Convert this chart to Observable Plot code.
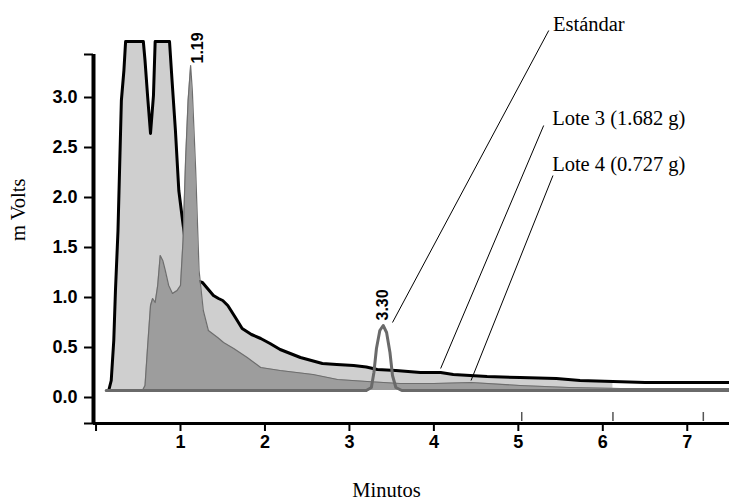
<!DOCTYPE html>
<html><head><meta charset="utf-8">
<script src="https://cdn.jsdelivr.net/npm/d3@7"></script>
<script src="https://cdn.jsdelivr.net/npm/@observablehq/plot@0.6"></script>
<style>body{margin:0;background:#fff}</style>
</head><body><div id="chart"></div>
<script>
// Lote 3 (1.682 g) — light gray fill with black outline
const lote3X = [0.15,0.18,0.21,0.23,0.26,0.30,0.33,0.35,0.56,0.58,0.61,0.645,0.68,0.70,0.87,0.90,0.94,0.98,1.02,1.07,1.12,1.18,1.26,1.32,1.39,1.45,1.50,1.56,1.65,1.73,1.84,1.95,2.06,2.18,2.30,2.42,2.55,2.68,2.85,3.05,3.20,3.33,3.55,3.84,4.08,4.23,4.63,5.02,5.45,5.73,6.12,6.50,7.00,7.50];
const lote3Y = [0,0.1,0.5,1.0,1.6,2.9,3.2,3.49,3.49,3.3,2.95,2.57,2.95,3.49,3.49,3.1,2.6,2.0,1.73,1.4,1.15,1.1,1.08,1.02,0.95,0.92,0.90,0.85,0.73,0.62,0.56,0.52,0.47,0.41,0.37,0.33,0.30,0.27,0.26,0.25,0.235,0.21,0.2,0.18,0.18,0.16,0.14,0.13,0.12,0.1,0.09,0.08,0.08,0.08];
// Lote 4 (0.727 g) — darker gray fill
const lote4X = [0.55,0.58,0.61,0.645,0.67,0.70,0.73,0.76,0.79,0.82,0.86,0.905,0.96,1.00,1.03,1.06,1.09,1.12,1.14,1.16,1.18,1.20,1.22,1.27,1.33,1.44,1.51,1.63,1.79,1.95,2.18,2.57,2.86,3.21,3.60,4.00,4.44,5.02,5.60,6.21,7.50];
const lote4Y = [0,0.05,0.43,0.85,0.92,0.88,1.05,1.35,1.3,1.2,1.05,0.97,1.0,1.05,1.5,2.3,2.9,3.25,3.0,2.6,2.2,1.7,1.2,0.8,0.6,0.53,0.48,0.42,0.33,0.23,0.2,0.16,0.11,0.09,0.07,0.07,0.08,0.05,0.03,0.02,0.02];
// Estándar — gray trace with peak at 3.30
const estX = [0.12,3.20,3.26,3.29,3.32,3.36,3.40,3.44,3.48,3.51,3.55,3.62,7.50];
const estY = [0,0,0.03,0.18,0.42,0.6,0.65,0.58,0.38,0.15,0.03,0,0];

const xTicks = [0,1,2,3,4,5,6,7];
const yTicks = [0,0.5,1.0,1.5,2.0,2.5,3.0];
const xDomain = [-0.03, 7.5];
const yDomain = [-0.33, 3.6];
const yAxisEnds = [-0.33, 3.36];
const extraTicks = [5.04, 6.12, 7.19];

const peakLabels = [
  {x: 1.21, y: 3.27, label: "1.19"},
  {x: 3.40, y: 0.70, label: "3.30"}
];
const pointers = [
  {name: "Estándar", x1: 5.36, y1: 3.60, x2: 3.51, y2: 0.68, tx: 5.41, ty: 3.66},
  {name: "Lote 3 (1.682 g)", x1: 5.30, y1: 2.65, x2: 4.08, y2: 0.22, tx: 5.40, ty: 2.72},
  {name: "Lote 4 (0.727 g)", x1: 5.41, y1: 2.15, x2: 4.44, y2: 0.10, tx: 5.40, ty: 2.26}
];

const lote3 = lote3X.map((x, i) => ({x, y: lote3Y[i]}));
const lote4 = lote4X.map((x, i) => ({x, y: lote4Y[i]}));
const estandar = estX.map((x, i) => ({x, y: estY[i]}));

const bold = {fontFamily: "Liberation Sans, Arial, sans-serif", fontWeight: "bold", fontSize: 18};
const serif = {fontFamily: "Liberation Serif, Times New Roman, serif", fontSize: 20.5};

const chart = Plot.plot({
  width: 729, height: 501,
  marginLeft: 93, marginRight: 0, marginTop: 30, marginBottom: 78,
  x: {domain: xDomain},
  y: {domain: yDomain},
  style: {background: "white", color: "black"},
  marks: [
    Plot.areaY(lote3.filter(d => d.x <= 6.12), {x: "x", y: "y", fill: "#cfcfcf"}),
    Plot.lineY(lote3, {x: "x", y: "y", stroke: "#000", strokeWidth: 3, strokeLinejoin: "round"}),
    Plot.areaY(lote4, {x: "x", y: "y", fill: "#9d9d9d"}),
    Plot.lineY(lote4, {x: "x", y: "y", stroke: "#6e6e6e", strokeWidth: 1.2}),
    Plot.lineY(estandar, {x: "x", y: "y", stroke: "#6a6a6a", strokeWidth: 3}),
    // axes
    Plot.ruleX([xDomain[0]], {y1: yAxisEnds[0], y2: yAxisEnds[1], stroke: "#000", strokeWidth: 4}),
    Plot.ruleY([yAxisEnds[0]], {x1: xDomain[0], x2: xDomain[1], stroke: "#000", strokeWidth: 3}),
    Plot.axisY({ticks: yTicks, tickFormat: d3.format(".1f"), tickSize: 9, tickPadding: 7, strokeWidth: 2, dy: 7, label: null, ...bold}),
    Plot.axisY({ticks: yAxisEnds, tickFormat: () => "", tickSize: 9, strokeWidth: 2, label: null}),
    Plot.axisX({ticks: xTicks, tickFormat: d => d === 0 ? "" : String(d), tickSize: 8, tickPadding: 4, strokeWidth: 2, label: null, ...bold}),
    Plot.ruleX(extraTicks, {y1: -0.22, y2: -0.31, stroke: "#555", strokeWidth: 1.5}),
    // axis titles
    Plot.text(["Minutos"], {frameAnchor: "bottom", dx: -25, dy: 73, text: d => d, ...serif}),
    Plot.text(["m Volts"], {frameAnchor: "left", dx: -75, dy: 14, rotate: -90, text: d => d, ...serif}),
    // peak labels
    Plot.text(peakLabels, {x: "x", y: "y", text: "label", rotate: -90, textAnchor: "start", ...bold, fontSize: 16}),
    // pointers
    Plot.link(pointers, {x1: "x1", y1: "y1", x2: "x2", y2: "y2", stroke: "#000", strokeWidth: 1}),
    Plot.text(pointers, {x: "tx", y: "ty", text: "name", textAnchor: "start", ...serif})
  ]
});
document.getElementById("chart").append(chart);
</script>
</body></html>
